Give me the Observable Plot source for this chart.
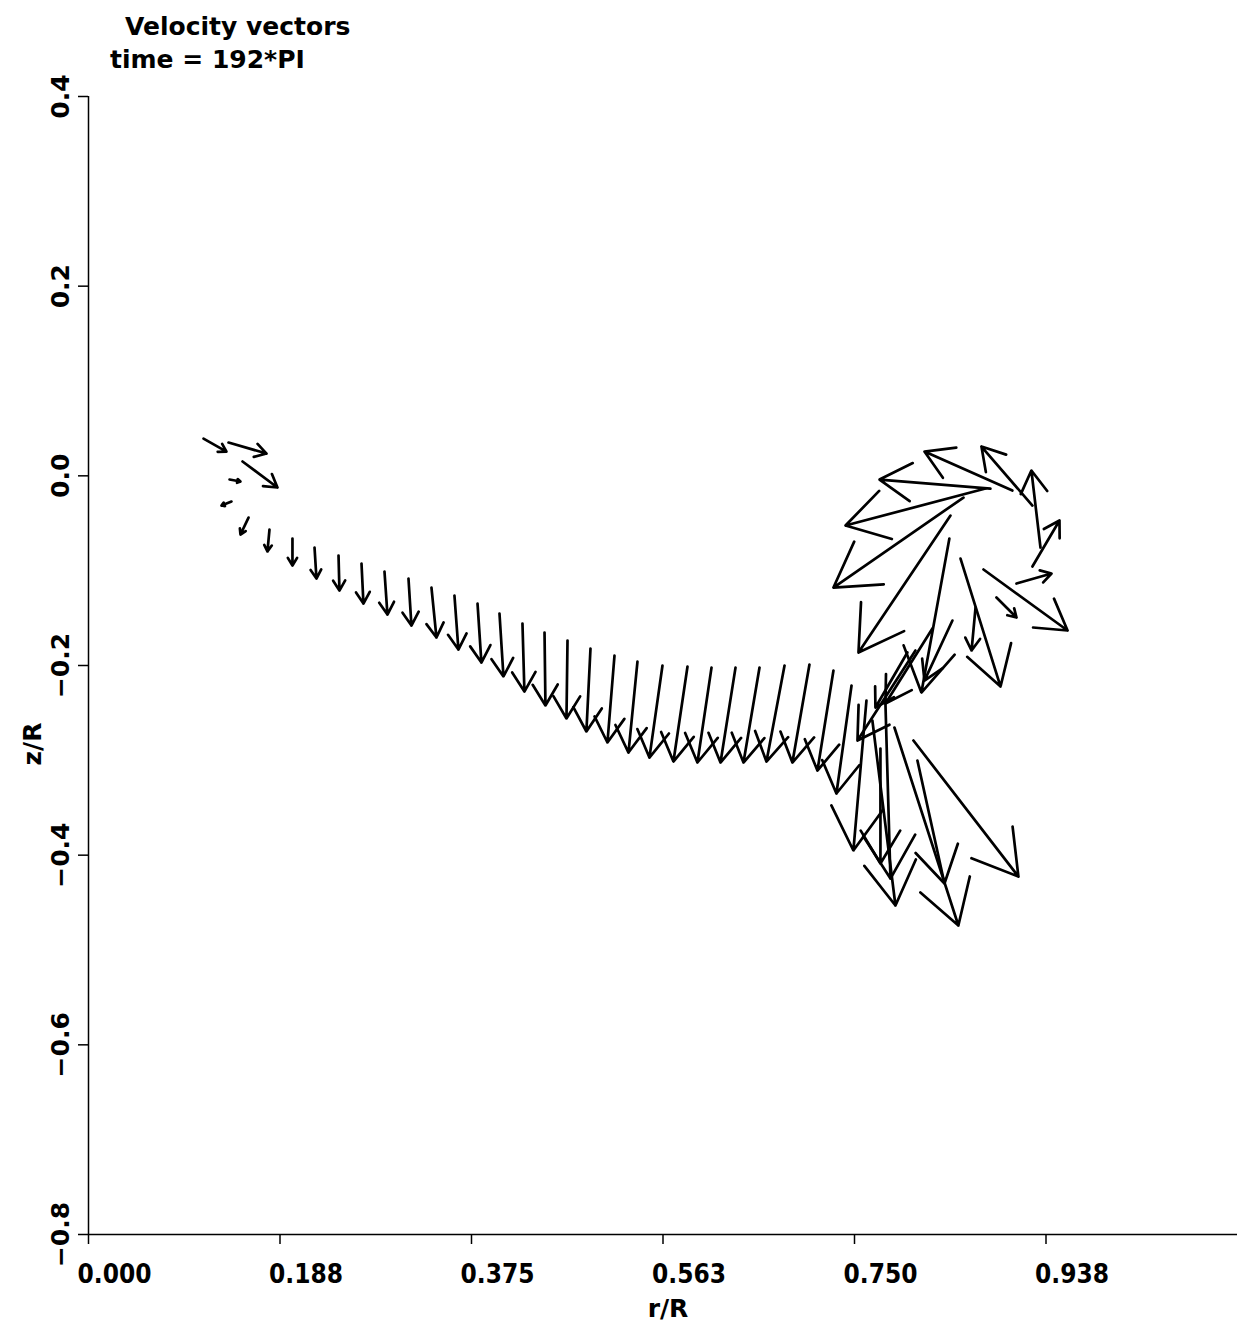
<!DOCTYPE html>
<html>
<head>
<meta charset="utf-8">
<script src="https://cdn.jsdelivr.net/npm/d3@7"></script>
<script src="https://cdn.jsdelivr.net/npm/@observablehq/plot@0.6"></script>
<style>
  html, body { margin: 0; padding: 0; background: #fff; }
  body { width: 1245px; height: 1325px; overflow: hidden; font-family: "DejaVu Sans", sans-serif; color: #000; }
  #head { position: relative; height: 80px; }
  #head div { position: absolute; font-size: 25px; font-weight: bold; line-height: 25px; white-space: nowrap; }
  #t1 { left: 125px; top: 14px; }
  #t2 { left: 110px; top: 47px; }
  #chart svg { display: block; overflow: visible; }
</style>
</head>
<body>
<div id="head">
  <div id="t1">Velocity vectors</div>
  <div id="t2">time = 192*PI</div>
</div>
<div id="chart"></div>
<script>
// Tail positions (r/R, z/R) of each velocity vector
const r = [0.1126,0.1371,0.1508,0.1381,0.1400,0.1567,0.1772,0.1997,0.2213,0.2448,0.2673,0.2898,0.3133,0.3358,0.3583,0.3809,0.4024,0.4249,0.4465,0.4690,0.4915,0.5150,0.5375,0.5620,0.5865,0.6100,0.6335,0.6570,0.6815,0.7059,0.7294,0.7471,
  0.7617,0.7803,0.7754,0.7675,0.7891,0.8116,0.8077,0.8097,0.8263,0.8018,0.8429,0.8459,
  0.8831,0.9046,0.9242,0.9321,0.9242,0.9086,0.8890,0.8763,0.8685,0.8538,0.8440,0.8567,0.8783];
const z = [0.0393,0.0351,0.0151,-0.0039,-0.0271,-0.0440,-0.0566,-0.0661,-0.0756,-0.0840,-0.0925,-0.1009,-0.1083,-0.1178,-0.1262,-0.1347,-0.1452,-0.1558,-0.1652,-0.1737,-0.1821,-0.1895,-0.1958,-0.2000,-0.2011,-0.2022,-0.2022,-0.2022,-0.2000,-0.1990,-0.2053,-0.2211,
  -0.2370,-0.2401,-0.2876,-0.2580,-0.2654,-0.3002,-0.2791,-0.1842,-0.1610,-0.1863,-0.0661,-0.1526,
  -0.0134,-0.0155,-0.0313,-0.0756,-0.0956,-0.1136,-0.1283,-0.0988,-0.1389,-0.0872,-0.0419,-0.0229,-0.0134];
// Head positions (r/R, z/R) of each velocity vector
const rHead = [0.1351,0.1743,0.1850,0.1488,0.1302,0.1488,0.1752,0.1997,0.2232,0.2457,0.2692,0.2927,0.3162,0.3407,0.3622,0.3847,0.4063,0.4268,0.4474,0.4680,0.4875,0.5081,0.5287,0.5492,0.5727,0.5962,0.6188,0.6413,0.6638,0.6892,0.7137,0.7323,
  0.7489,0.7852,0.7754,0.7901,0.8517,0.8381,0.9105,0.7529,0.7803,0.7705,0.8155,0.8185,
  0.7745,0.8185,0.8743,0.9232,0.9507,0.9429,0.9086,0.9586,0.8646,0.8930,0.7539,0.7294,0.7412];
const zHead = [0.0256,0.0235,-0.0123,-0.0060,-0.0313,-0.0619,-0.0798,-0.0946,-0.1083,-0.1210,-0.1347,-0.1463,-0.1579,-0.1705,-0.1832,-0.1969,-0.2116,-0.2275,-0.2422,-0.2559,-0.2696,-0.2812,-0.2918,-0.2971,-0.3013,-0.3023,-0.3023,-0.3023,-0.3013,-0.3023,-0.3108,-0.3350,
  -0.3951,-0.4247,-0.4088,-0.4531,-0.4742,-0.4299,-0.4226,-0.2791,-0.2401,-0.2443,-0.2285,-0.2159,
  -0.0039,0.0256,0.0309,0.0056,-0.0471,-0.1030,-0.1494,-0.1631,-0.1842,-0.2222,-0.1863,-0.1178,-0.0524];

const xTicks = [0, 0.1875, 0.375, 0.5625, 0.75, 0.9375];
const xTickLabels = ["0.000", "0.188", "0.375", "0.563", "0.750", "0.938"];
const yTicks = [0.4, 0.2, 0.0, -0.2, -0.4, -0.6, -0.8];
const yTickLabels = ["0.4", "0.2", "0.0", "\u22120.2", "\u22120.4", "\u22120.6", "\u22120.8"];
const xLabel = "r/R";
const yLabel = "z/R";

const vectors = r.map((d, i) => ({r: d, z: z[i], r2: rHead[i], z2: zHead[i]}));
const fmtX = d => xTickLabels[xTicks.indexOf(d)];
const fmtY = d => yTickLabels[yTicks.indexOf(d)];

const plot = Plot.plot({
  width: 1245,
  height: 1245,
  marginTop: 16,
  marginBottom: 91,
  marginLeft: 88,
  marginRight: 8,
  x: {domain: [0, 1.125]},
  y: {domain: [-0.8, 0.4]},
  style: {fontFamily: "DejaVu Sans", color: "#000", background: "#fff"},
  marks: [
    Plot.ruleX([0], {strokeWidth: 1.5}),
    Plot.ruleY([-0.8], {strokeWidth: 1.5}),
    Plot.axisX(xTicks, {tickSize: 10, strokeWidth: 1.5, fill: "none", label: null}),
    Plot.axisX(xTicks, {tickSize: 10, tickPadding: 20, stroke: "none", dx: 26, tickFormat: fmtX,
      fontSize: 26, fontWeight: "bold", fontFamily: "DejaVu Sans Condensed, DejaVu Sans", label: null}),
    Plot.axisY(yTicks, {tickSize: 10, tickPadding: 10, tickRotate: -90, strokeWidth: 1.5, tickFormat: fmtY,
      fontSize: 25, fontWeight: "bold", label: null}),
    Plot.text([xLabel], {frameAnchor: "bottom", dy: 82, dx: 5, lineAnchor: "bottom",
      fontSize: 25, fontWeight: "bold"}),
    Plot.text([yLabel], {frameAnchor: "left", dx: -48, dy: 100, rotate: -90, lineAnchor: "bottom",
      fontSize: 25, fontWeight: "bold"}),
    Plot.arrow(vectors, {x1: "r", y1: "z", x2: "r2", y2: "z2",
      stroke: "#000", strokeWidth: 2.7, headLength: 28, headAngle: 62})
  ]
});
document.getElementById("chart").appendChild(plot);
</script>
</body>
</html>
